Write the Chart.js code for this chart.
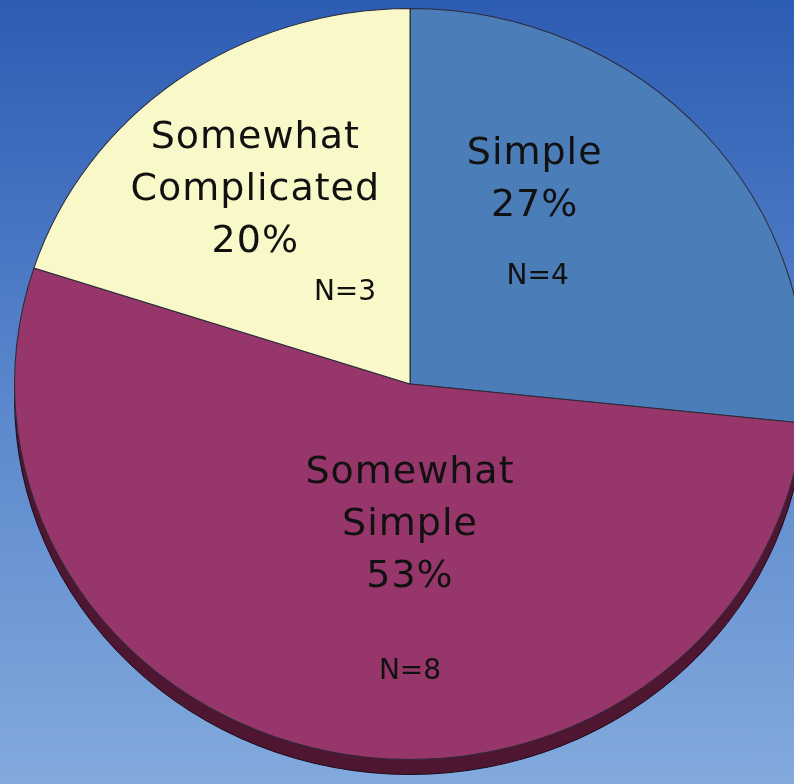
<!DOCTYPE html>
<html>
<head>
<meta charset="utf-8">
<script src="https://cdn.jsdelivr.net/npm/chart.js@4/dist/chart.umd.min.js"></script>
<style>
  html, body { margin: 0; padding: 0; }
  body {
    width: 794px; height: 784px; overflow: hidden;
    background: linear-gradient(to bottom, #2d5cb3 0%, #5a86cc 50%, #82aadd 100%);
  }
  #wrap { width: 794px; height: 784px; }
</style>
</head>
<body>
<div id="wrap"><canvas id="pie" width="794" height="784"></canvas></div>
<script>
// chart values
const labels = [['Simple'], ['Somewhat', 'Simple'], ['Somewhat', 'Complicated']];
const counts = [4, 8, 3];
const percents = ['27%', '53%', '20%'];
const nLabels = ['N=4', 'N=8', 'N=3'];

const sliceColors = ['#4b7db8', '#97366a', '#f8f8c9'];

// label anchors, as fractions of the radius from the pie centre
const labelSpots = [
    { main: [0.332, -0.543], n: [0.340, -0.287] },
    { main: [0.0, 0.375], n: [0.0, 0.766] },
    { main: [-0.412, -0.516], n: [-0.173, -0.242] }
];

const stretchX = 1.053;   // pie is a little wider than tall
const depth = 15;         // thickness of the pie edge

const tiltPlugin = {
    id: 'tilt',
    beforeDatasetsDraw(chart) {
        const ctx = chart.ctx;
        const arc = chart.getDatasetMeta(0).data[0];
        const cx = arc.x, cy = arc.y, r = arc.outerRadius;
        // dark edge under the top face
        ctx.save();
        ctx.beginPath();
        ctx.ellipse(cx, cy + depth, r * stretchX, r, 0, 0, Math.PI * 2);
        ctx.fillStyle = '#4f1632';
        ctx.fill();
        ctx.lineWidth = 1;
        ctx.strokeStyle = '#1e0a16';
        ctx.stroke();
        ctx.restore();

        ctx.save();
        ctx.translate(cx, 0);
        ctx.scale(stretchX, 1);
        ctx.translate(-cx, 0);
    },
    afterDatasetsDraw(chart) {
        const ctx = chart.ctx;
        ctx.restore();

        const meta = chart.getDatasetMeta(0);
        const arc = meta.data[0];
        const cx = arc.x, cy = arc.y, r = arc.outerRadius;

        ctx.save();
        ctx.fillStyle = '#111';
        ctx.textAlign = 'center';
        ctx.textBaseline = 'middle';
        labels.forEach((lines, i) => {
            const spot = labelSpots[i];
            const all = lines.concat([percents[i]]);
            const lh = 52;
            const mx = cx + spot.main[0] * r;
            const my = cy + spot.main[1] * r;
            ctx.font = '38px "DejaVu Sans", Verdana, sans-serif';
            ctx.letterSpacing = '1px';
            all.forEach((t, k) => {
                ctx.fillText(t, mx, my + (k - (all.length - 1) / 2) * lh);
            });
            ctx.font = '28px "DejaVu Sans", Verdana, sans-serif';
            ctx.letterSpacing = '0px';
            ctx.fillText(nLabels[i], cx + spot.n[0] * r, cy + spot.n[1] * r);
        });
        ctx.restore();
    }
};

new Chart(document.getElementById('pie'), {
    type: 'pie',
    data: {
        labels: labels.map(l => l.join(' ')),
        datasets: [{
            data: counts,
            backgroundColor: sliceColors,
            borderColor: '#2b2b38',
            borderWidth: 1,
            clip: false
        }]
    },
    options: {
        responsive: false,
        animation: false,
        layout: { padding: { top: 8, bottom: 24, left: 34, right: 8 } },
        plugins: {
            legend: { display: false },
            tooltip: { enabled: false }
        }
    },
    plugins: [tiltPlugin]
});
</script>
</body>
</html>
